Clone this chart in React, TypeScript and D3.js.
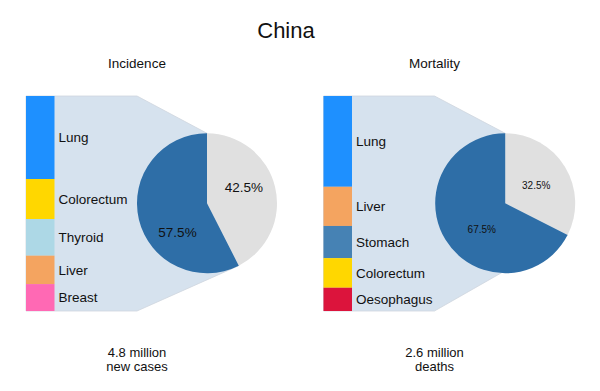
import React from "react";
import * as d3 from "d3";

// China cancer burden: share of top five sites (%) inside the "top five" pie slice
const incidenceSites = ["Lung", "Colorectum", "Thyroid", "Liver", "Breast"];
const incidenceShares = [22.2, 10.7, 9.8, 7.6, 7.2];
const incidenceColors = ["#1e90ff", "#ffd700", "#add8e6", "#f4a460", "#ff69b4"];

const mortalitySites = ["Lung", "Liver", "Stomach", "Colorectum", "Oesophagus"];
const mortalityShares = [28.5, 12.3, 10.1, 9.3, 7.3];
const mortalityColors = ["#1e90ff", "#f4a460", "#4682b4", "#ffd700", "#dc143c"];

// pie: [other sites, top five]
const incidencePie = [42.5, 57.5];
const mortalityPie = [32.5, 67.5];

const titles = ["Incidence", "Mortality"];
const totals = [["4.8 million", "new cases"], ["2.6 million", "deaths"]];

const W = 600, H = 391;
const FONT = "'Liberation Sans', Arial, sans-serif";
const PIE_COLORS = ["#e0e0e0", "#2e6ea7"];

function Panel({sites, shares, colors, pieVals, barX, cx, title, total, pctSize, nudge}) {
    const top = 96, bottom = 311, barW = 28.5, rectW = 82.5;
    const r = 70, cy = 203.3;

    const sum = d3.sum(shares);
    const y = d3.scaleLinear().domain([0, sum]).range([top, bottom]);
    const cum = d3.cumsum(shares);
    const segs = shares.map((v, i) => ({name: sites[i], color: colors[i], y0: y(cum[i] - v), y1: y(cum[i])}));

    const arcs = d3.pie().sort(null).value(d => d)(pieVals);
    const arc = d3.arc().innerRadius(0).outerRadius(r);
    const dark = arcs[1];
    const pt = a => [cx + r * Math.sin(a), cy - r * Math.cos(a)];

    const barR = barX + barW;
    const poly = [
        [barX, top], [barR + rectW, top], pt(dark.endAngle),
        pt(dark.startAngle), [barR + rectW, bottom], [barX, bottom]
    ];

    const labelPos = (a, i) => {
        const mid = (a.startAngle + a.endAngle) / 2 + nudge[i].da * Math.PI / 180;
        return [cx + nudge[i].r * Math.sin(mid), cy - nudge[i].r * Math.cos(mid)];
    };

    const titleX = barR + rectW;
    return (
        <g>
            <text x={titleX} y={68} textAnchor="middle" fontSize={13.5} fill="#111">{title}</text>
            <polygon points={poly.map(p => p.join(",")).join(" ")} fill="#d6e2ee" stroke="#cfd6de" strokeWidth={0.8}/>
            {segs.map(s => (
                <g key={s.name}>
                    <rect x={barX} y={s.y0} width={barW} height={s.y1 - s.y0} fill={s.color}/>
                    <text x={barR + 4} y={(s.y0 + s.y1) / 2} dy="0.35em" fontSize={13.5} fill="#111">{s.name}</text>
                </g>
            ))}
            <g transform={`translate(${cx},${cy})`}>
                {arcs.map((a, i) => <path key={i} d={arc(a)} fill={PIE_COLORS[i]}/>)}
            </g>
            {arcs.map((a, i) => {
                const [lx, ly] = labelPos(a, i);
                return (
                    <text key={i} x={lx} y={ly} dy="0.35em" textAnchor="middle" fontSize={pctSize} fill="#111">
                        {d3.format(".1f")(a.value)}%
                    </text>
                );
            })}
            <text x={titleX} y={357} textAnchor="middle" fontSize={13} fill="#111">{total[0]}</text>
            <text x={titleX} y={370.5} textAnchor="middle" fontSize={13} fill="#111">{total[1]}</text>
        </g>
    );
}

export default function App() {
    return (
        <svg width={W} height={H} style={{position: "absolute", left: 0, top: 0, background: "#fff"}} fontFamily={FONT}>
            <text x={286} y={38} textAnchor="middle" fontSize={22} fill="#111">China</text>
            <Panel sites={incidenceSites} shares={incidenceShares} colors={incidenceColors}
                   pieVals={incidencePie} barX={26} cx={207} title={titles[0]} total={totals[0]}
                   pctSize={13.5} nudge={[{da: -9.5, r: 40}, {da: -30.5, r: 41}]}/>
            <Panel sites={mortalitySites} shares={mortalityShares} colors={mortalityColors}
                   pieVals={mortalityPie} barX={323.5} cx={505.2} title={titles[1]} total={totals[1]}
                   pctSize={10} nudge={[{da: 1, r: 36}, {da: -16.5, r: 35}]}/>
        </svg>
    );
}
